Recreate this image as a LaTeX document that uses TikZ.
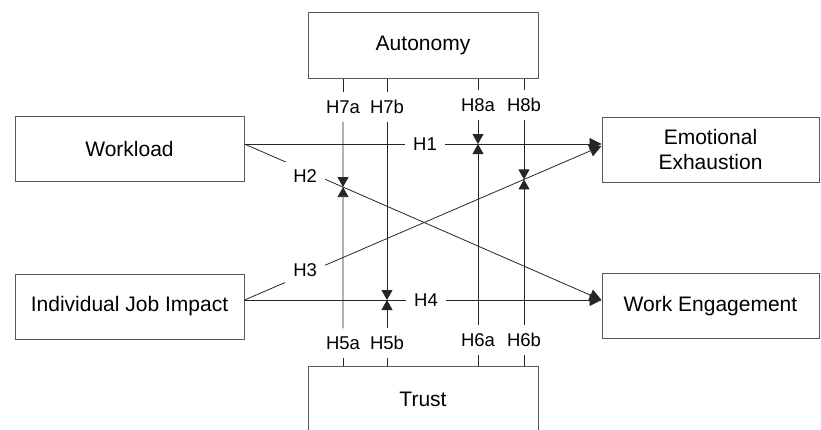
\documentclass[tikz,border=0pt]{standalone}
\usepackage{fontspec}
\setmainfont{Liberation Sans}
\usetikzlibrary{arrows.meta}
\tikzset{
  box/.style={draw=black!65, line width=1pt, minimum height=65pt, inner sep=0pt,
    align=center, font=\fontsize{21}{25}\selectfont},
  hyp/.style={fill=white, inner sep=8pt, font=\fontsize{18.5}{21}\selectfont},
  link/.style={draw=black!85, line width=0.8pt},
  patharrow/.style={-{Triangle[length=12pt,width=12pt]}},
  modarrow/.style={-{Triangle[length=10pt,width=11pt]}}
}
\begin{document}
\begin{tikzpicture}[x=1pt,y=-1pt]
\clip (0,0) rectangle (821,429);

% constructs
\node[box, minimum width=229pt] (wl) at (129.5,148.5) {Workload};
\node[box, minimum width=229pt] (ij) at (129.5,306.5) {Individual Job Impact};
\node[box, minimum width=217pt] (ee) at (710.5,149.5) {Emotional\\Exhaustion};
\node[box, minimum width=217pt] (we) at (710.5,306) {Work Engagement};
\node[box, minimum width=230pt, minimum height=66pt] (au) at (423,45) {Autonomy};
\node[box, minimum width=230pt, minimum height=66pt] (tr) at (423,399) {Trust};

% hypothesis labels
\node[hyp] (h1) at (425,144) {H1};
\node[hyp] (h4) at (426,300) {H4};
\node[hyp] (h7a) at (343,107) {H7a};
\node[hyp] (h7b) at (387,107) {H7b};
\node[hyp] (h8a) at (478,105) {H8a};
\node[hyp] (h8b) at (524,105) {H8b};
\node[hyp] (h5a) at (343,343) {H5a};
\node[hyp] (h5b) at (387,343) {H5b};
\node[hyp] (h6a) at (478,340) {H6a};
\node[hyp] (h6b) at (524,340) {H6b};

% end points of the direct paths
\coordinate (wlo) at (wl.east |- 0,144);
\coordinate (ijo) at (ij.east |- 0,300);
\coordinate (eei) at (ee.west |- 0,144);
\coordinate (eeh) at (ee.west |- 0,146);
\coordinate (wei) at (we.west |- 0,300);

% direct paths
\draw[link] (wlo) -- (h1);
\draw[link, patharrow] (h1) -- (eei);
\draw[link] (ijo) -- (h4);
\draw[link, patharrow] (h4) -- (wei);
\draw[link, patharrow] (wlo) -- node[hyp, pos=0.17, yshift=-6pt] (h2) {H2} (wei);
\draw[link, patharrow] (ijo) -- node[hyp, pos=0.17, yshift=4pt] (h3) {H3} (eeh);

% moderation points
\coordinate (m7a) at (intersection of wlo--wei and h7a--h5a);
\coordinate (m7b) at (intersection of ijo--wei and h7b--h5b);
\coordinate (m8a) at (intersection of wlo--eei and h8a--h6a);
\coordinate (m8b) at (intersection of ijo--eeh and h8b--h6b);

% moderators
\foreach \lab in {h7a,h7b,h8a,h8b}
  \draw[link] (au.south -| \lab) -- (\lab);
\foreach \lab in {h5a,h5b,h6a,h6b}
  \draw[link] (tr.north -| \lab) -- (\lab);
\draw[link, modarrow] (h7a) -- (m7a);
\draw[link, modarrow] (h5a) -- (m7a);
\draw[link, modarrow] (h7b) -- (m7b);
\draw[link, modarrow] (h5b) -- (m7b);
\draw[link, modarrow] (h8a) -- (m8a);
\draw[link, modarrow] (h6a) -- (m8a);
\draw[link, modarrow] (h8b) -- (m8b);
\draw[link, modarrow] (h6b) -- (m8b);
\end{tikzpicture}
\end{document}
